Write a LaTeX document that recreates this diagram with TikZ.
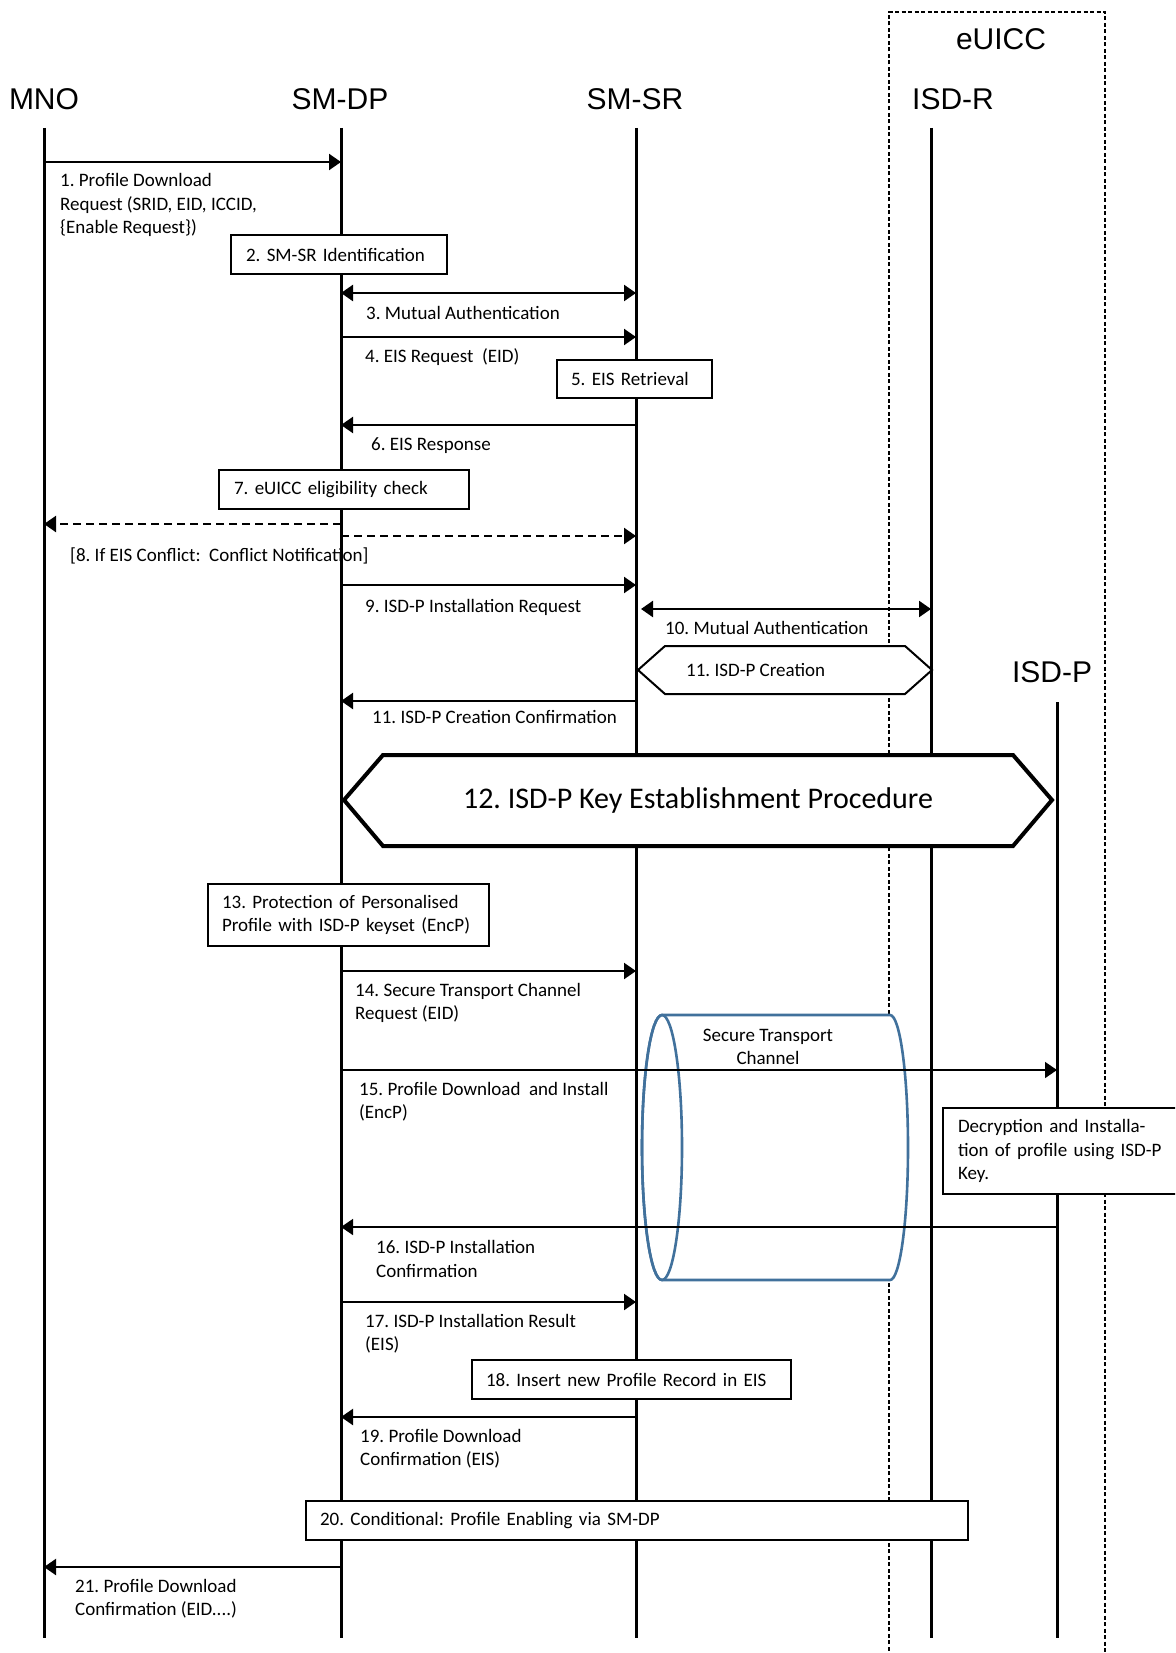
\documentclass[tikz,border=0pt]{standalone}
\usepackage{fontspec}
\setmainfont{Carlito}
\newfontfamily\hdrfont{Liberation Sans}
\usetikzlibrary{arrows.meta}
\definecolor{cylblue}{RGB}{65,113,156}
\newcommand\lblfont{\fontsize{19}{23.2}\selectfont}
\begin{document}
\frenchspacing
\begin{tikzpicture}[x=1pt,y=-1pt,
  life/.style={line width=3pt},
  msg/.style={line width=2.2pt,-{Triangle[length=12pt,width=16pt]}},
  bimsg/.style={line width=2.4pt,{Triangle[length=12pt,width=16pt]}-{Triangle[length=12pt,width=16pt]}},
  dmsg/.style={msg,dash pattern=on 8pt off 5pt},
  thinmsg/.style={line width=1.6pt,-{Triangle[length=12pt,width=16pt]}},
  lbl/.style={font=\lblfont,inner sep=0pt,anchor=west,align=left},
  box/.style={draw,line width=2pt,fill=white,anchor=north west,align=left,font=\lblfont,inner ysep=0pt},
  hdr/.style={font=\hdrfont\fontsize{30}{36}\selectfont,inner sep=0pt},
  hexa/.style={draw,fill=white,line width=2pt,line join=miter},
  cyl/.style={draw=cylblue,line width=2.6pt,fill=white}]
\clip (0,0) rectangle (1175,1653);
% eUICC dashed frame
\draw[line width=1.3pt,dash pattern=on 4pt off 2.5pt] (889,1670) -- (889,12) -- (1105,12) -- (1105,1670);
\node[hdr] (euicc) at (1001,39) {eUICC};
% headers
\node[hdr] (mnoH) at (44,99) {MNO};
\node[hdr] (dpH) at (340,99) {SM-DP};
\node[hdr] (srH) at (635,99) {SM-SR};
\node[hdr] (rH) at (953,99) {ISD-R};
\node[hdr] (pH) at (1052,672) {ISD-P};
% lifelines
\coordinate (mno) at (44,128);  \coordinate (mnoB) at (44,1638);
\coordinate (dp) at (341,128);  \coordinate (dpB) at (341,1638);
\coordinate (sr) at (636,128);  \coordinate (srB) at (636,1638);
\coordinate (isr) at (931,128); \coordinate (isrB) at (931,1638);
\coordinate (isp) at (1057,702);\coordinate (ispB) at (1057,1638);
\draw[life] (mno) -- (mnoB);
\draw[life] (dp) -- (dpB);
\draw[life] (sr) -- (srB);
\draw[life] (isr) -- (isrB);
\draw[life] (isp) -- (ispB);
% boxes
\node[box,inner xsep=15pt,text width=186pt,minimum height=39pt] (b2) at (230,234) {2. SM-SR Identification};
\node[box,inner xsep=14pt,text width=127pt,minimum height=38pt] (b5) at (556,359) {5. EIS Retrieval};
\node[box,inner xsep=15pt,text width=220pt,minimum height=39pt] (b7) at (218,469) {7. eUICC eligibility check};
\node[box,inner xsep=14pt,text width=253pt,minimum height=62pt] (b13) at (207,883) {13. Protection of Personalised\\Profile with ISD-P keyset (EncP)};
\node[box,inner xsep=15pt,text width=230pt,minimum height=86pt] (bdec) at (942,1107) {Decryption and Installa-\\tion of profile using ISD-P\\Key.};
\node[box,inner xsep=14pt,text width=291pt,minimum height=39pt] (b18) at (471,1359) {18. Insert new Profile Record in EIS};
\node[box,inner xsep=14pt,text width=634pt,minimum height=39pt] (b20) at (305,1500) {20. Conditional: Profile Enabling via SM-DP};
% hexagon 11
\filldraw[hexa] (638,670) -- (665,646) -- (905,646) -- (932,670) -- (905,694) -- (665,694) -- cycle;
\node[lbl] (h11) at (686,670) {11. ISD-P Creation};
% hexagon 12
\filldraw[hexa,line width=4pt] (344,800) -- (383,755) -- (1013,755) -- (1052,800) -- (1013,846) -- (383,846) -- cycle;
\node[font=\fontsize{30}{36}\selectfont,inner sep=0pt] (h12) at (698,800) {12. ISD-P Key Establishment Procedure};
% cylinder
\filldraw[cyl] (662,1015) -- (890,1015) arc[start angle=-90,end angle=90,x radius=18,y radius=132.5]
  -- (662,1280) arc[start angle=90,end angle=270,x radius=20,y radius=132.5] -- cycle;
\draw[cyl,fill=none] (662,1147.5) ellipse[x radius=20,y radius=132.5];
\node[font=\lblfont,inner sep=0pt,align=center] (cylT) at (768,1047) {Secure Transport\\Channel};
% messages
\draw[msg] (mno |- 0,162) -- (dp |- 0,162);
\node[lbl] (l1) at (60,205) {1. Profile Download\\Request (SRID, EID, ICCID,\\\{Enable Request\})};
\draw[bimsg] (dp |- 0,293) -- (sr |- 0,293);
\node[lbl] (l3) at (366,313) {3. Mutual Authentication};
\draw[msg] (dp |- 0,337) -- (sr |- 0,337);
\node[lbl] (l4) at (365,357) {4. EIS Request~ (EID)};
\draw[msg] (sr |- 0,425) -- (dp |- 0,425);
\node[lbl] (l6) at (371,446) {6. EIS Response};
\draw[dmsg] (dp |- 0,524) -- (mno |- 0,524);
\draw[dmsg] (dp |- 0,536) -- (sr |- 0,536);
\node[lbl] (l8) at (70,556) {[8. If EIS Conflict:~ Conflict Notification]};
\draw[msg] (dp |- 0,585) -- (sr |- 0,585);
\node[lbl] (l9) at (365,607) {9. ISD-P Installation Request};
\draw[bimsg] (641,609) -- (isr |- 0,609);
\node[lbl] (l10) at (665,628) {10. Mutual Authentication};
\draw[msg] (sr |- 0,701) -- (dp |- 0,701);
\node[lbl] (l11) at (372,717) {11. ISD-P Creation Confirmation};
\draw[msg] (dp |- 0,971) -- (sr |- 0,971);
\node[lbl] (l14) at (355,1003) {14. Secure Transport Channel\\Request (EID)};
\draw[thinmsg] (dp |- 0,1070) -- (isp |- 0,1070);
\node[lbl] (l15) at (359,1102) {15. Profile Download~ and Install\\(EncP)};
\draw[thinmsg] (isp |- 0,1227) -- (dp |- 0,1227);
\node[lbl] (l16) at (376,1259) {16. ISD-P Installation\\Confirmation};
\draw[msg] (dp |- 0,1302) -- (sr |- 0,1302);
\node[lbl] (l17) at (365,1334) {17. ISD-P Installation Result\\(EIS)};
\draw[msg] (sr |- 0,1417) -- (dp |- 0,1417);
\node[lbl] (l19) at (360,1449) {19. Profile Download\\Confirmation (EIS)};
\draw[msg] (dp |- 0,1567) -- (mno |- 0,1567);
\node[lbl] (l21) at (75,1599) {21. Profile Download\\Confirmation (EID....)};
\end{tikzpicture}
\end{document}
